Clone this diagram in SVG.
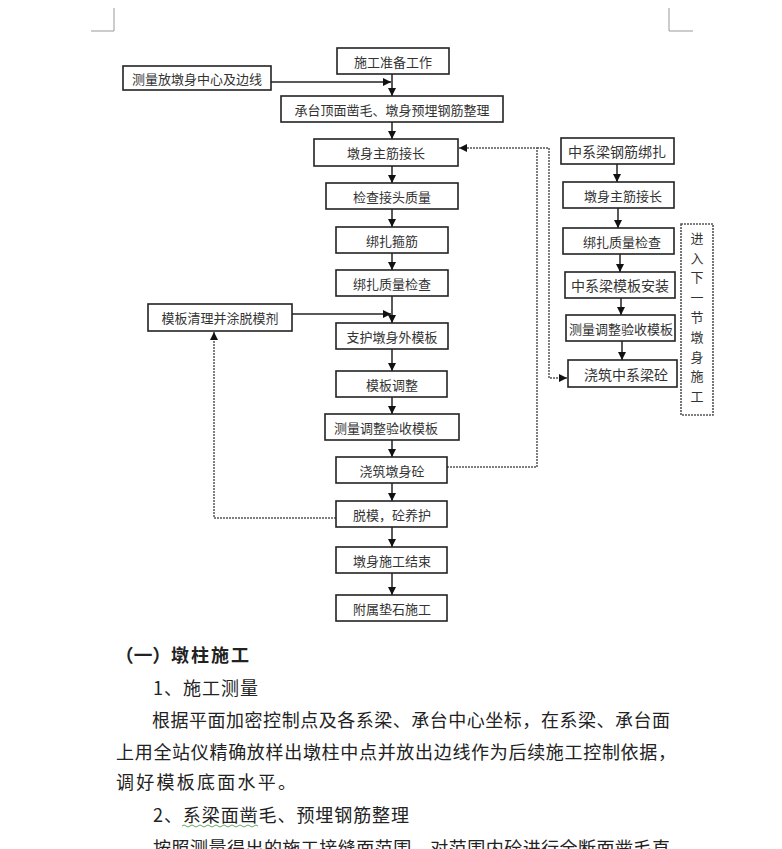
<svg xmlns="http://www.w3.org/2000/svg" width="782" height="849" viewBox="0 0 782 849">
<defs>
<style>
.box{fill:#fff;stroke:#222;stroke-width:1.6}
.dbox{fill:#fff;stroke:#555;stroke-width:1.6;stroke-dasharray:2,1}
.lbl{font-family:"Noto Sans CJK SC","Noto Sans CJK TC",sans-serif;font-size:13px;fill:#333;text-anchor:middle;dominant-baseline:central}
.lbl14{font-size:14px}
.vt{font-size:13px}
.ln{fill:none;stroke:#222;stroke-width:1.5}
.dl{fill:none;stroke:#555;stroke-width:1.5;stroke-dasharray:2,1}
.para{font-family:"Noto Sans CJK SC",sans-serif;font-size:18px;fill:#222}
.mark{fill:none;stroke:#999;stroke-width:1}
</style>
<marker id="ah" viewBox="0 0 10 10" refX="10" refY="5" markerWidth="8" markerHeight="8" markerUnits="userSpaceOnUse" orient="auto">
<path d="M0,0 L10,5 L0,10 z" fill="#111"/>
</marker>
</defs>
<rect width="782" height="849" fill="#fff"/>
<g id="page-marks">
<path class="mark" d="M114,8 V31 H91"/>
<path class="mark" d="M669,8 V31 H693"/>
</g>
<g id="connectors">
<line class="ln" x1="392" y1="74" x2="392" y2="96" marker-end="url(#ah)"/>
<line class="ln" x1="271" y1="82" x2="391" y2="82" marker-end="url(#ah)"/>
<line class="ln" x1="392" y1="122" x2="392" y2="139" marker-end="url(#ah)"/>
<line class="ln" x1="392" y1="166" x2="392" y2="183" marker-end="url(#ah)"/>
<line class="ln" x1="392" y1="209" x2="392" y2="227" marker-end="url(#ah)"/>
<line class="ln" x1="392" y1="253" x2="392" y2="270" marker-end="url(#ah)"/>
<line class="ln" x1="392" y1="296" x2="392" y2="323" marker-end="url(#ah)"/>
<line class="ln" x1="292" y1="314" x2="391" y2="314" marker-end="url(#ah)"/>
<line class="ln" x1="392" y1="349" x2="392" y2="371" marker-end="url(#ah)"/>
<line class="ln" x1="392" y1="397" x2="392" y2="414" marker-end="url(#ah)"/>
<line class="ln" x1="392" y1="440" x2="392" y2="457" marker-end="url(#ah)"/>
<line class="ln" x1="392" y1="483" x2="392" y2="501" marker-end="url(#ah)"/>
<line class="ln" x1="392" y1="527" x2="392" y2="547" marker-end="url(#ah)"/>
<line class="ln" x1="392" y1="573" x2="392" y2="595" marker-end="url(#ah)"/>
<path class="dl" d="M336,518 H214 V332" marker-end="url(#ah)"/>
<path class="dl" d="M447,467 H537 V148 H459" marker-end="url(#ah)"/>
<path class="dl" d="M537,148 H549 V378 H567" marker-end="url(#ah)"/>
<line class="ln" x1="617" y1="164" x2="617" y2="182" marker-end="url(#ah)"/>
<line class="ln" x1="618" y1="208" x2="618" y2="228" marker-end="url(#ah)"/>
<line class="ln" x1="620" y1="254" x2="620" y2="272" marker-end="url(#ah)"/>
<line class="ln" x1="621" y1="298" x2="621" y2="315" marker-end="url(#ah)"/>
<line class="ln" x1="622" y1="341" x2="622" y2="360" marker-end="url(#ah)"/>
</g>
<g id="n1"><rect class="box" x="337" y="48" width="112" height="26"/><text class="lbl" x="393" y="61">施工准备工作</text></g>
<g id="n2"><rect class="box" x="123" y="66" width="148" height="24"/><text class="lbl" x="197" y="78">测量放墩身中心及边线</text></g>
<g id="n3"><rect class="box" x="281" y="96" width="222" height="26"/><text class="lbl" x="392" y="109">承台顶面凿毛、墩身预埋钢筋整理</text></g>
<g id="n4"><rect class="box" x="314" y="139" width="144" height="27"/><text class="lbl" x="386" y="152.5">墩身主筋接长</text></g>
<g id="n5"><rect class="box" x="326" y="183" width="132" height="26"/><text class="lbl" x="392" y="196">检查接头质量</text></g>
<g id="n6"><rect class="box" x="336" y="227" width="112" height="26"/><text class="lbl" x="392" y="240">绑扎箍筋</text></g>
<g id="n7"><rect class="box" x="336" y="270" width="112" height="26"/><text class="lbl" x="392" y="283">绑扎质量检查</text></g>
<g id="n8"><rect class="box" x="148" y="304" width="144" height="27"/><text class="lbl" x="220" y="317.5">模板清理并涂脱模剂</text></g>
<g id="n9"><rect class="box" x="336" y="323" width="112" height="26"/><text class="lbl" x="392" y="336">支护墩身外模板</text></g>
<g id="n10"><rect class="box" x="336" y="371" width="111" height="26"/><text class="lbl" x="392" y="384">模板调整</text></g>
<g id="n11"><rect class="box" x="325" y="414" width="134" height="26"/><text class="lbl" x="386" y="427">测量调整验收模板</text></g>
<g id="n12"><rect class="box" x="336" y="457" width="111" height="26"/><text class="lbl" x="392" y="470">浇筑墩身砼</text></g>
<g id="n13"><rect class="box" x="336" y="501" width="111" height="26"/><text class="lbl" x="392" y="514">脱模，砼养护</text></g>
<g id="n14"><rect class="box" x="336" y="547" width="111" height="26"/><text class="lbl" x="392" y="560">墩身施工结束</text></g>
<g id="n15"><rect class="box" x="336" y="595" width="111" height="26"/><text class="lbl" x="392" y="608">附属垫石施工</text></g>
<g id="r1"><rect class="box" x="561" y="138" width="113" height="26"/><text class="lbl lbl14" x="617" y="151">中系梁钢筋绑扎</text></g>
<g id="r2"><rect class="box" x="563" y="182" width="111" height="26"/><text class="lbl" x="623" y="195">墩身主筋接长</text></g>
<g id="r3"><rect class="box" x="563" y="228" width="111" height="26"/><text class="lbl" x="622" y="241">绑扎质量检查</text></g>
<g id="r4"><rect class="box" x="565" y="272" width="110" height="26"/><text class="lbl lbl14" x="620" y="285">中系梁模板安装</text></g>
<g id="r5"><rect class="box" x="566" y="315" width="109" height="26"/><text class="lbl" x="621" y="328">测量调整验收模板</text></g>
<g id="r6"><rect class="box" x="568" y="360" width="109" height="27"/><text class="lbl lbl14" x="626" y="373.5">浇筑中系梁砼</text></g>
<g id="r7"><rect class="dbox" x="681" y="224" width="32" height="191"/>
<text class="lbl vt" x="697" y="237">进</text>
<text class="lbl vt" x="697" y="257">入</text>
<text class="lbl vt" x="697" y="276">下</text>
<text class="lbl vt" x="697" y="296">一</text>
<text class="lbl vt" x="697" y="316">节</text>
<text class="lbl vt" x="697" y="336">墩</text>
<text class="lbl vt" x="697" y="356">身</text>
<text class="lbl vt" x="697" y="375">施</text>
<text class="lbl vt" x="697" y="395">工</text>
</g>
<g id="body-text">
<text class="para" x="115" y="662" font-weight="bold" textLength="56" lengthAdjust="spacingAndGlyphs">（一）</text>
<text class="para" x="171" y="662" font-weight="bold" textLength="78" lengthAdjust="spacing">墩柱施工</text>
<text class="para" x="153" y="695" textLength="105" lengthAdjust="spacing">1、施工测量</text>
<text class="para" x="152" y="727" textLength="518" lengthAdjust="spacing">根据平面加密控制点及各系梁、承台中心坐标，在系梁、承台面</text>
<text class="para" x="116" y="759" textLength="560" lengthAdjust="spacing">上用全站仪精确放样出墩柱中点并放出边线作为后续施工控制依据，</text>
<text class="para" x="116" y="789" textLength="180" lengthAdjust="spacing">调好模板底面水平。</text>
<text class="para" x="153" y="822" textLength="256" lengthAdjust="spacing">2、系梁面凿毛、预埋钢筋整理</text>
<path d="M182,826 q2,-2 4,0 t4,0 t4,0 t4,0 t4,0 t4,0 t4,0 t4,0 t4,0 t4,0 t4,0 t4,0 t4,0 t4,0 t4,0 t4,0 t4,0 t4,0 t4,0" fill="none" stroke="#6a6" stroke-width="1"/>
<text class="para" x="153" y="855" textLength="517" lengthAdjust="spacing">按照测量得出的施工接缝面范围，对范围内砼进行全断面凿毛直</text>
</g>
</svg>
